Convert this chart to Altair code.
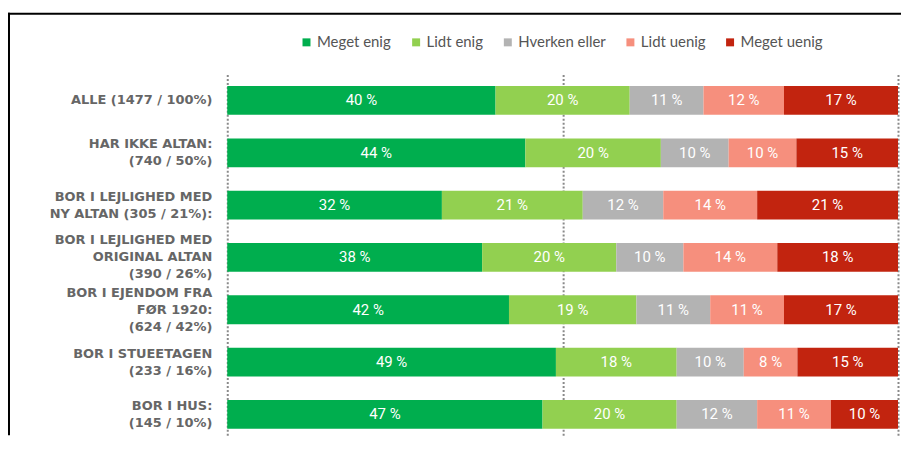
import altair as alt
import pandas as pd

categories = [
    "ALLE (1477 / 100%)",
    "HAR IKKE ALTAN:\n(740 / 50%)",
    "BOR I LEJLIGHED MED\nNY ALTAN (305 / 21%):",
    "BOR I LEJLIGHED MED\nORIGINAL ALTAN\n(390 / 26%)",
    "BOR I EJENDOM FRA\nFØR 1920:\n(624 / 42%)",
    "BOR I STUEETAGEN\n(233 / 16%)",
    "BOR I HUS:\n(145 / 10%)",
]
series = ["Meget enig", "Lidt enig", "Hverken eller", "Lidt uenig", "Meget uenig"]
meget_enig = [40, 44, 32, 38, 42, 49, 47]
lidt_enig = [20, 20, 21, 20, 19, 18, 20]
hverken_eller = [11, 10, 12, 10, 11, 10, 12]
lidt_uenig = [12, 10, 14, 14, 11, 8, 11]
meget_uenig = [17, 15, 21, 18, 17, 15, 10]
colors = ["#00AE4E", "#92D050", "#B3B3B3", "#F68F7D", "#C2240F"]

values = [meget_enig, lidt_enig, hverken_eller, lidt_uenig, meget_uenig]
rows = []
for si, s in enumerate(series):
    for ci, c in enumerate(categories):
        rows.append({"cat": c, "series": s, "order": si, "value": values[si][ci]})
df = pd.DataFrame(rows)

y_enc = alt.Y("cat:N", sort=categories, axis=None,
              scale=alt.Scale(paddingInner=0.45, paddingOuter=0.1725, align=0.64))

base = alt.Chart(df)

bars = base.mark_bar().encode(
    x=alt.X("value:Q", stack="normalize",
            scale=alt.Scale(domain=[0, 1]),
            axis=alt.Axis(values=[0, 0.5, 1], grid=True, gridDash=[2, 2],
                          gridColor="#8a8a8a", gridWidth=2, labels=False,
                          ticks=False, domain=False, title=None)),
    y=y_enc,
    color=alt.Color("series:N", sort=series,
                    scale=alt.Scale(domain=series, range=colors),
                    legend=alt.Legend(title=None, orient="none", direction="horizontal",
                                      legendX=72, legendY=-40,
                                      symbolType="square", symbolSize=64,
                                      symbolStrokeWidth=0, labelFontSize=15,
                                      labelColor="#555555", labelFont="Lato",
                                      columnPadding=17, labelOffset=3, padding=0)),
    order=alt.Order("order:Q"),
)

labels = base.transform_joinaggregate(
    total="sum(value)", groupby=["cat"]
).transform_window(
    cum="sum(value)", groupby=["cat"], sort=[alt.SortField("order")]
).transform_calculate(
    mid="(datum.cum - datum.value / 2) / datum.total",
    txt="datum.value + ' %'",
).mark_text(color="white", font="Roboto", fontSize=15, baseline="middle").encode(
    x=alt.X("mid:Q"),
    y=y_enc,
    text="txt:N",
)

cat_df = pd.DataFrame({"cat": categories,
                       "n": [c.count("\n") + 1 for c in categories]})
ylabel_layers = []
for n in [1, 2, 3]:
    ylabel_layers.append(
        alt.Chart(cat_df).transform_filter(f"datum.n == {n}").mark_text(
            align="right", baseline="middle", lineBreak="\n", font="DejaVu Sans",
            fontWeight="bold", fontSize=13, color="#666666", lineHeight=17,
            dy=-(n - 1) * 8.5,
        ).encode(
            x=alt.value(-15),
            y=y_enc,
            text="cat:N",
        )
    )

one = pd.DataFrame({"a": [0]})
left_line = alt.Chart(one).mark_rect(color="black").encode(
    x=alt.value(-220), x2=alt.value(-218), y=alt.value(-62), y2=alt.value(362))
top_line = alt.Chart(one).mark_rect(color="black").encode(
    x=alt.value(-220), x2=alt.value(676), y=alt.value(-62), y2=alt.value(-60))

chart = alt.layer(bars, labels, *ylabel_layers, left_line, top_line).properties(
    width=673, height=362,
    padding={"top": 4, "left": 0, "right": 0, "bottom": 0},
).configure_view(stroke=None)

chart.save("out.html", embed_options={"renderer": "svg", "actions": False})
